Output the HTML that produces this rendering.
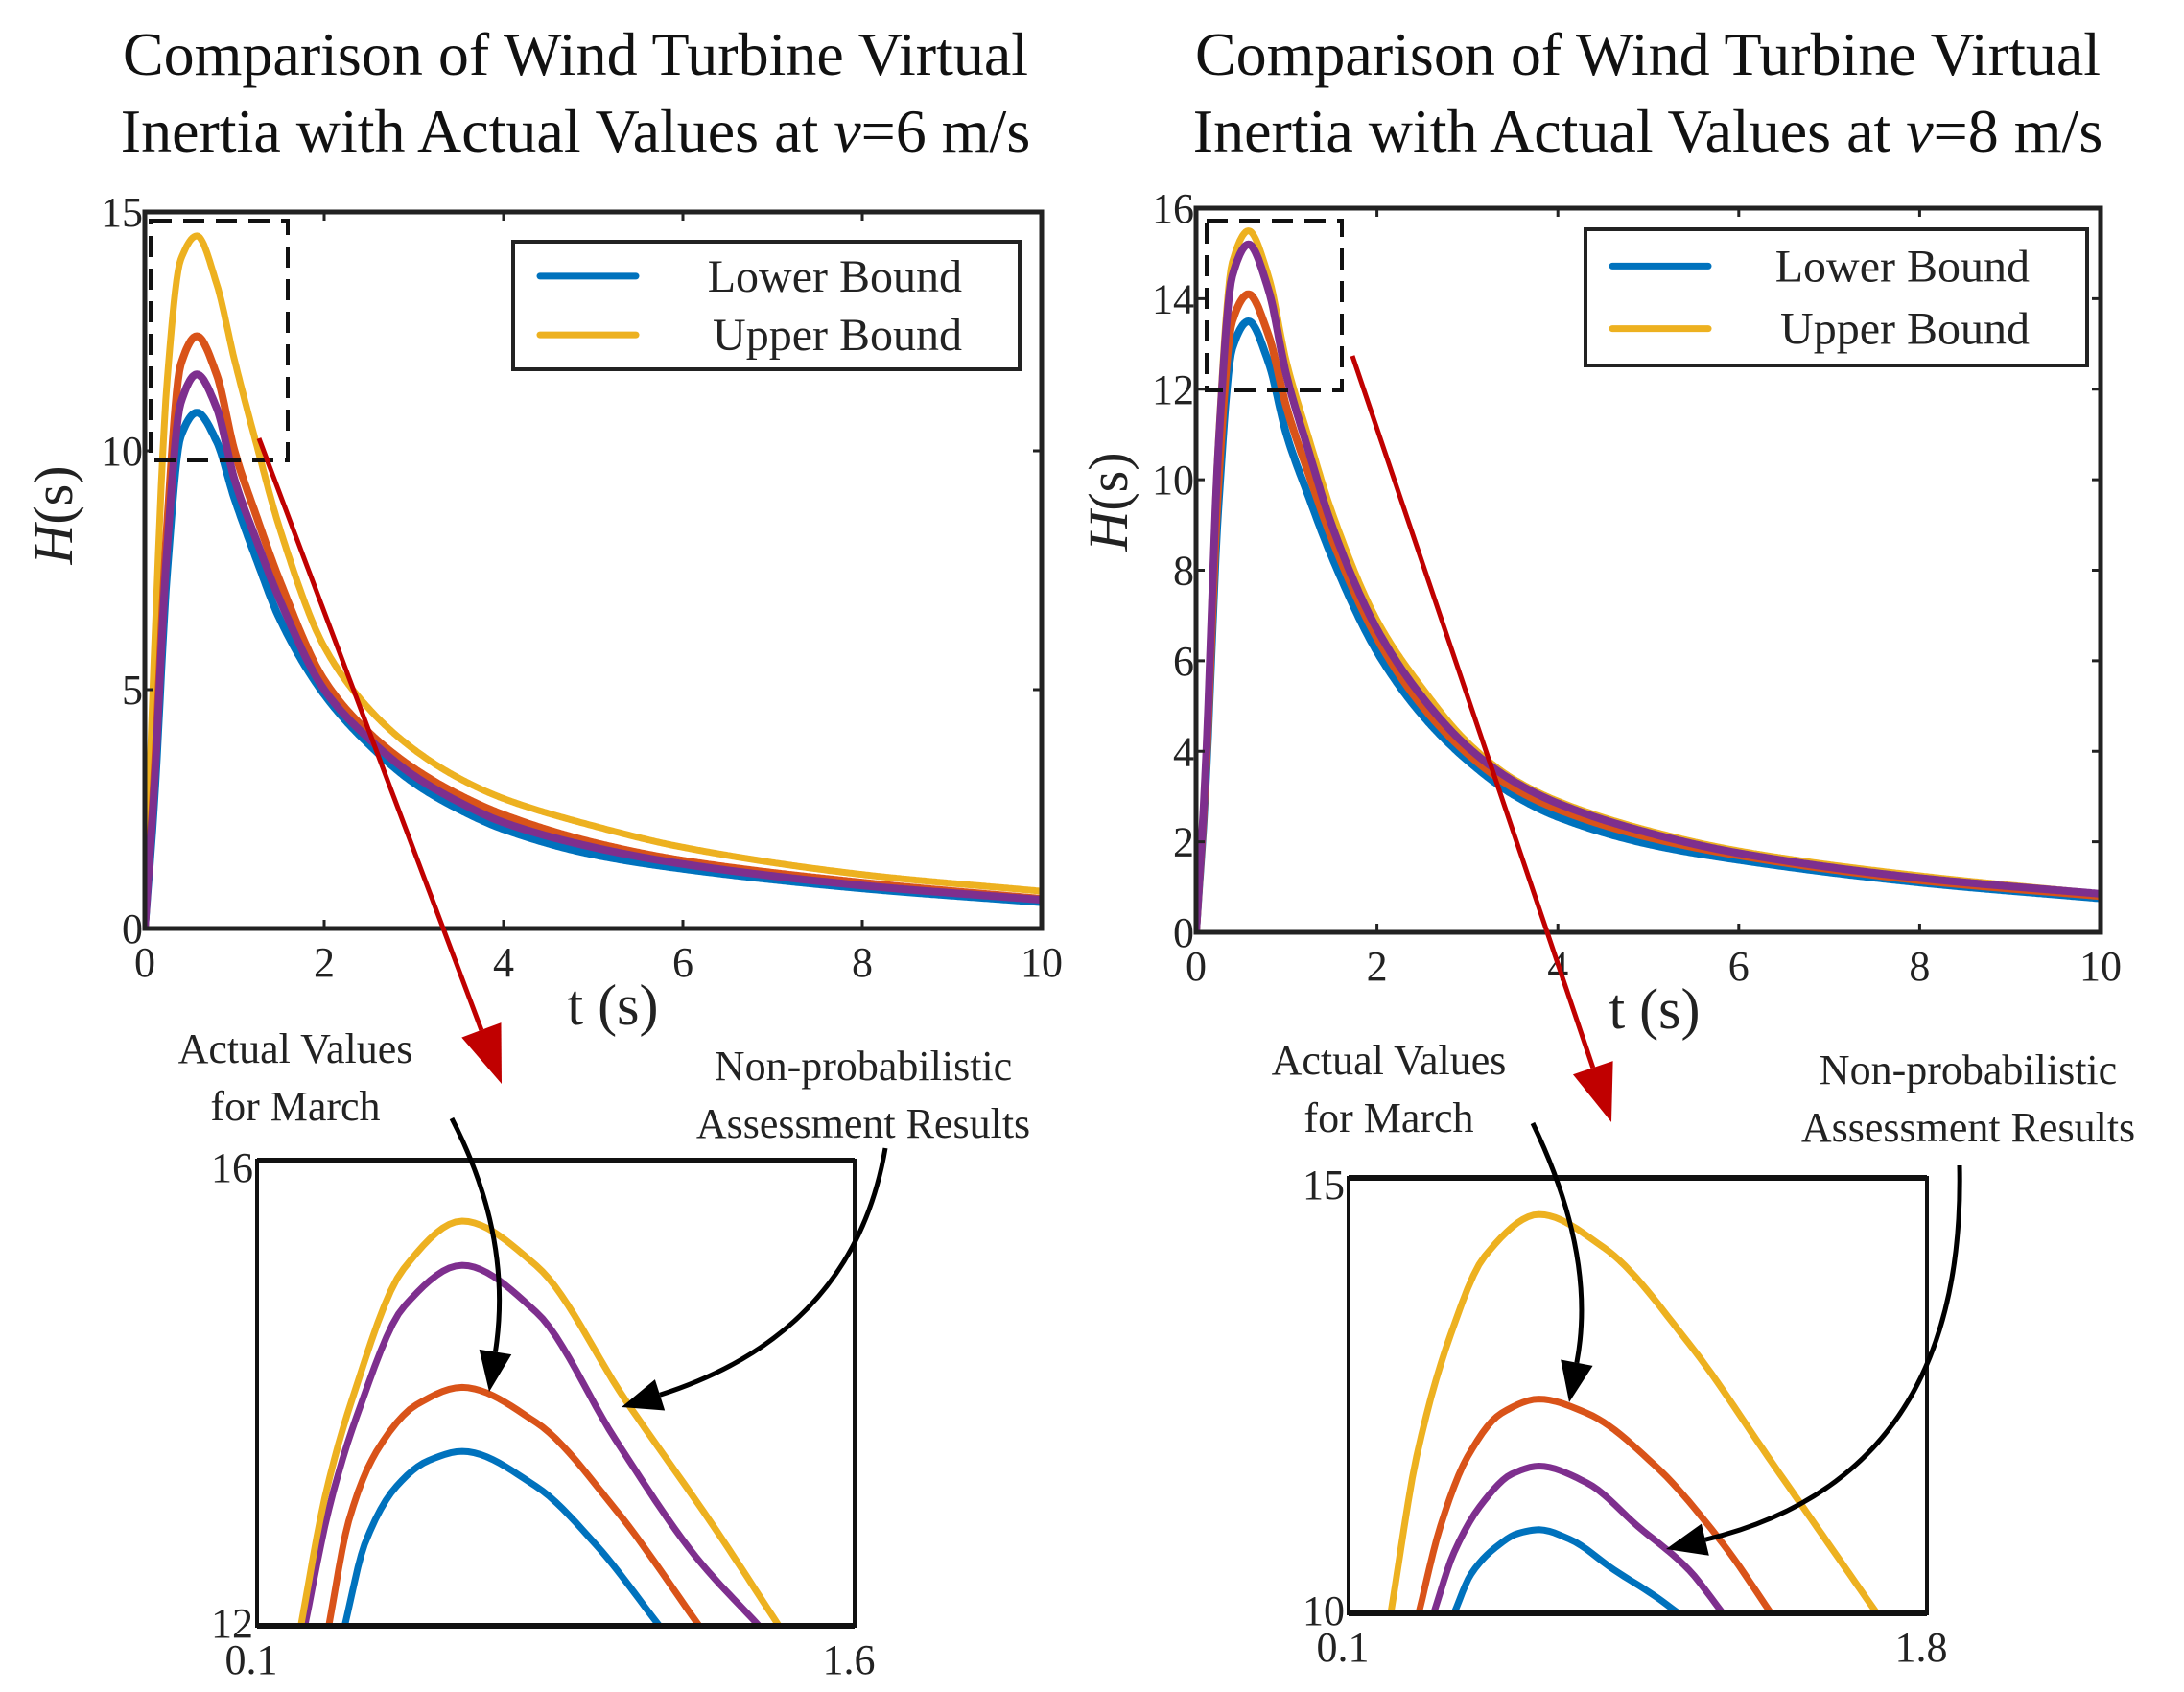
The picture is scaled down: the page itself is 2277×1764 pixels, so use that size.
<!DOCTYPE html>
<html><head><meta charset="utf-8"><style>
html,body{margin:0;padding:0;background:#fff;}
svg{display:block;font-family:"Liberation Serif",serif;}
</style></head><body>
<svg id="fig" width="2277" height="1764" viewBox="0 0 2277 1764" xmlns="http://www.w3.org/2000/svg">
<defs>
<clipPath id="cL1"><rect x="151" y="221" width="935" height="747"/></clipPath>
<clipPath id="cR1"><rect x="1247" y="217" width="943" height="755"/></clipPath>
<clipPath id="cL2"><rect x="268" y="1210" width="623" height="485"/></clipPath>
<clipPath id="cR2"><rect x="1406" y="1228" width="603" height="454"/></clipPath>
</defs>
<g font-size="64" text-anchor="middle" fill="#111">
<text x="600" y="78">Comparison of Wind Turbine Virtual</text>
<text x="600" y="158">Inertia with Actual Values at <tspan font-style="italic">v</tspan>=6 m/s</text>
<text x="1718" y="78">Comparison of Wind Turbine Virtual</text>
<text x="1718" y="158">Inertia with Actual Values at <tspan font-style="italic">v</tspan>=8 m/s</text>
</g>
<g id="layer"></g>
</svg>
<script>
// ---- data ----
const tPts = [0,0.1,0.25,0.4,0.58,0.8,1,1.25,1.5,2,2.5,3,3.5,4,5,6,8,10];
const L_blue   = [0,2.5,7.5,10.3,10.8,10.2,9.0,7.7,6.5,4.9,3.85,3.05,2.5,2.08,1.55,1.25,0.84,0.55];
const L_yellow = [0,5.5,11.5,14.0,14.5,13.5,11.9,10.1,8.4,5.9,4.6,3.75,3.15,2.72,2.15,1.7,1.13,0.78];
const L_orange = [0,3,8.5,11.8,12.4,11.6,10.0,8.6,7.3,5.2,4.1,3.35,2.8,2.38,1.8,1.42,0.96,0.62];
const L_purple = [0,2.8,8,11,11.6,10.9,9.4,8.1,6.9,5.0,3.97,3.2,2.65,2.22,1.7,1.35,0.9,0.6];
const R_blue   = [0,3,9.5,12.9,13.5,12.6,11.0,9.6,8.3,6.2,4.8,3.8,3.05,2.55,1.95,1.6,1.1,0.75];
const R_yellow = [0,3.5,11,14.8,15.5,14.5,12.6,10.9,9.3,6.9,5.4,4.2,3.4,2.9,2.25,1.8,1.25,0.85];
const R_orange = [0,3.2,10,13.5,14.1,13.2,11.6,10.1,8.7,6.5,5.0,3.95,3.2,2.72,2.1,1.7,1.15,0.8];
const R_purple = [0,3.4,10.8,14.5,15.2,14.2,12.3,10.6,9.0,6.7,5.2,4.1,3.35,2.85,2.2,1.75,1.2,0.85];
const xTicks = [0,2,4,6,8,10];
const L_yTicks = [0,5,10,15];
const R_yTicks = [0,2,4,6,8,10,12,14,16];
// left inset
const LI_yellow_t = [0.21,0.27,0.338,0.468,0.615,0.8,1.025,1.253,1.41];
const LI_yellow_h = [12,13.1,13.94,15.07,15.48,15.1,13.94,12.82,12];
const LI_purple_t = [0.22,0.28,0.35,0.47,0.615,0.8,1.0,1.2,1.36];
const LI_purple_h = [12,13,13.8,14.75,15.1,14.7,13.6,12.6,12];
const LI_orange_t = [0.28,0.33,0.4,0.5,0.615,0.8,1.0,1.21];
const LI_orange_h = [12,12.9,13.5,13.9,14.05,13.75,13.0,12];
const LI_blue_t = [0.32,0.37,0.45,0.53,0.615,0.8,0.95,1.11];
const LI_blue_h = [12,12.7,13.2,13.42,13.5,13.2,12.7,12];
// right inset
const RI_yellow_t = [0.224,0.3,0.4,0.5,0.66,0.85,1.1,1.35,1.653];
const RI_yellow_h = [10,11.8,13.2,14.1,14.58,14.2,13.1,11.7,10];
const RI_orange_t = [0.306,0.37,0.45,0.55,0.66,0.8,1.0,1.2,1.342];
const RI_orange_h = [10,11.0,11.8,12.3,12.46,12.3,11.7,10.8,10];
const RI_purple_t = [0.35,0.41,0.5,0.58,0.66,0.8,0.95,1.1,1.2];
const RI_purple_h = [10,10.7,11.3,11.6,11.69,11.5,11.0,10.5,10];
const RI_blue_t = [0.41,0.46,0.53,0.6,0.66,0.75,0.88,1.0,1.07];
const RI_blue_h = [10,10.45,10.75,10.92,10.96,10.85,10.5,10.2,10];

const C = {blue:'#0072BD', orange:'#D95319', yellow:'#EDB120', purple:'#7E2F8E', red:'#C00000'};
const NS='http://www.w3.org/2000/svg';
const layer=document.getElementById('layer');
function mk(tag,attrs,parent){const e=document.createElementNS(NS,tag);for(const k in attrs)e.setAttribute(k,attrs[k]);(parent||layer).appendChild(e);return e;}
function scale(d0,d1,r0,r1){return v=>r0+(v-d0)/(d1-d0)*(r1-r0);}
function monoPath(xsArr,ysArr,sx,sy){
  const n=xsArr.length,h=[],dl=[],m=new Array(n);
  for(let i=0;i<n-1;i++){h[i]=xsArr[i+1]-xsArr[i];dl[i]=(ysArr[i+1]-ysArr[i])/h[i];}
  m[0]=dl[0];m[n-1]=dl[n-2];
  for(let i=1;i<n-1;i++){ if(dl[i-1]*dl[i]<=0)m[i]=0; else { const w1=2*h[i]+h[i-1],w2=h[i]+2*h[i-1]; m[i]=(w1+w2)/(w1/dl[i-1]+w2/dl[i]); } }
  let d='';
  for(let i=0;i<n-1;i++){
    const N=Math.max(6,Math.ceil(h[i]*60));
    for(let k=(i===0?0:1);k<=N;k++){
      const s=k/N,x=xsArr[i]+s*h[i];
      const h00=2*s*s*s-3*s*s+1,h10=s*s*s-2*s*s+s,h01=-2*s*s*s+3*s*s,h11=s*s*s-s*s;
      const y=h00*ysArr[i]+h10*h[i]*m[i]+h01*ysArr[i+1]+h11*h[i]*m[i+1];
      d+=(d?' L':'M')+sx(x).toFixed(1)+','+sy(y).toFixed(1);
    }
  }
  return d;
}
function txt(x,y,s,size,anchor,parent){const t=mk('text',{x:x,y:y,'font-size':size,'text-anchor':anchor||'middle',fill:'#222'},parent);t.textContent=s;return t;}

function mainChart(id,box,ymax,yTicks,series,clip){
  const g=mk('g',{});
  
  
  const xs=scale(0,10,box.l,box.r), ys=scale(0,ymax,box.b,box.t);
  const cg=mk('g',{'clip-path':'url(#'+clip+')'},g);
  series.forEach(s=>{
    const p=mk('path',{d:monoPath(tPts,s.v,xs,ys),fill:'none',stroke:s.c,'stroke-width':s.w,'stroke-linecap':'round','stroke-linejoin':'round'},cg);
    
    
  });
  xTicks.forEach(v=>{const x=xs(v);mk('line',{x1:x,x2:x,y1:box.b,y2:box.b-9,stroke:'#222','stroke-width':3},g);mk('line',{x1:x,x2:x,y1:box.t,y2:box.t+9,stroke:'#222','stroke-width':3},g);
    const t=txt(x,box.b+50,String(v),44,'middle',g);});
  yTicks.forEach(v=>{const y=ys(v);mk('line',{x1:box.l,x2:box.l+9,y1:y,y2:y,stroke:'#222','stroke-width':3},g);mk('line',{x1:box.r,x2:box.r-9,y1:y,y2:y,stroke:'#222','stroke-width':3},g);
    const t=txt(box.l-2,y+15,String(v),44,'end',g);});
  const fr=mk('rect',{x:box.l,y:box.t,width:box.r-box.l,height:box.b-box.t,fill:'none',stroke:'#222','stroke-width':5},g);
  
  
}
mainChart('left',{l:151,r:1086,t:221,b:968},15,L_yTicks,[
 {n:'lower-bound',v:L_blue,c:C.blue,w:8},{n:'upper-bound',v:L_yellow,c:C.yellow,w:7},{n:'actual-march',v:L_orange,c:C.orange,w:8},{n:'assessment',v:L_purple,c:C.purple,w:8}],'cL1');
mainChart('right',{l:1247,r:2190,t:217,b:972},16,R_yTicks,[
 {n:'lower-bound',v:R_blue,c:C.blue,w:8},{n:'upper-bound',v:R_yellow,c:C.yellow,w:7},{n:'actual-march',v:R_orange,c:C.orange,w:8},{n:'assessment',v:R_purple,c:C.purple,w:8}],'cR1');

let a=txt(639,1068,'t (s)',60);
a=txt(1725,1072,'t (s)',60);
function ylab(x,y,name){const t=mk('text',{x:0,y:0,'font-size':58,'text-anchor':'middle',fill:'#222',transform:'translate('+x+','+y+') rotate(-90)'});
 t.innerHTML='<tspan font-style="italic">H</tspan>(s)';}
ylab(75,537,'left-y-axis-title');ylab(1175,523,'right-y-axis-title');

function legend(x,y,w,h,id){const g=mk('g',{});
 mk('rect',{x:x,y:y,width:w,height:h,fill:'#fff',stroke:'#222','stroke-width':4},g);
 const r1=y+h*0.27,r2=y+h*0.73;
 mk('line',{x1:x+28,x2:x+128,y1:r1,y2:r1,stroke:C.blue,'stroke-width':7,'stroke-linecap':'round'},g);
 mk('line',{x1:x+28,x2:x+128,y1:r2,y2:r2,stroke:C.yellow,'stroke-width':7,'stroke-linecap':'round'},g);
 let t=txt(x+w-60,r1+16,'Lower Bound',48,'end',g);
 t=txt(x+w-60,r2+16,'Upper Bound',48,'end',g);}
legend(535,252,528,133,'left');legend(1653,239,523,142,'right');

let d=mk('rect',{x:157,y:230,width:143,height:250,fill:'none',stroke:'#111','stroke-width':4,'stroke-dasharray':'22,12'});

d=mk('rect',{x:1258,y:230,width:141,height:177,fill:'none',stroke:'#111','stroke-width':4,'stroke-dasharray':'22,12'});


function redArrow(x1,y1,x2,y2,name){const g=mk('g',{});
 const ang=Math.atan2(y2-y1,x2-x1),L=60,W=22;const bx=x2-L*Math.cos(ang),by=y2-L*Math.sin(ang);
 mk('line',{x1:x1,y1:y1,x2:bx,y2:by,stroke:C.red,'stroke-width':5},g);
 const nx=-Math.sin(ang),ny=Math.cos(ang);
 mk('polygon',{points:x2+','+y2+' '+(bx+nx*W)+','+(by+ny*W)+' '+(bx-nx*W)+','+(by-ny*W),fill:C.red},g);}
redArrow(270,457,523,1130,'left-red-zoom-arrow');redArrow(1410,371,1680,1170,'right-red-zoom-arrow');

function inset(id,box,x0,x1,y0,y1,curves,clip,labs){
 const g=mk('g',{});
 const xs=scale(x0,x1,box.l,box.r),ys=scale(y0,y1,box.b,box.t);
 const cg=mk('g',{'clip-path':'url(#'+clip+')'},g);
 curves.forEach(c=>{const p=mk('path',{d:monoPath(c.t,c.h,xs,ys),fill:'none',stroke:c.c,'stroke-width':7,'stroke-linecap':'round'},cg);
  });
 mk('rect',{x:box.l,y:box.t,width:box.r-box.l,height:box.b-box.t,fill:'none',stroke:'#111','stroke-width':4},g);
 mk('line',{x1:box.l,x2:box.r,y1:box.b,y2:box.b,stroke:'#111','stroke-width':6},g);
 mk('line',{x1:box.l,x2:box.r,y1:box.t,y2:box.t,stroke:'#111','stroke-width':6},g);
 let t=txt(box.l-4,box.t+22,labs[2],44,'end',g);
 t=txt(box.l-4,box.b+12,labs[3],44,'end',g);
 t=txt(box.l-6,box.b+50,labs[0],44,'middle',g);
 t=txt(box.r-6,box.b+50,labs[1],44,'middle',g);}
inset('left',{l:268,r:891,t:1210,b:1695},0.1,1.6,12,16,[
 {n:'lower-bound',t:LI_blue_t,h:LI_blue_h,c:C.blue},{n:'actual-march',t:LI_orange_t,h:LI_orange_h,c:C.orange},
 {n:'assessment',t:LI_purple_t,h:LI_purple_h,c:C.purple},{n:'upper-bound',t:LI_yellow_t,h:LI_yellow_h,c:C.yellow}],'cL2',['0.1','1.6','16','12']);
inset('right',{l:1406,r:2009,t:1228,b:1682},0.1,1.8,10,15,[
 {n:'lower-bound',t:RI_blue_t,h:RI_blue_h,c:C.blue},{n:'actual-march',t:RI_orange_t,h:RI_orange_h,c:C.orange},
 {n:'assessment',t:RI_purple_t,h:RI_purple_h,c:C.purple},{n:'upper-bound',t:RI_yellow_t,h:RI_yellow_h,c:C.yellow}],'cR2',['0.1','1.8','15','10']);

function ann(x,y1,y2,l1,l2,name){const g=mk('g',{});
 txt(x,y1,l1,44,'middle',g);txt(x,y2,l2,44,'middle',g);}
ann(308,1108,1168,'Actual Values','for March','left-actual-values-label');
ann(900,1126,1186,'Non-probabilistic','Assessment Results','left-assessment-label');
ann(1448,1120,1180,'Actual Values','for March','right-actual-values-label');
ann(2052,1130,1190,'Non-probabilistic','Assessment Results','right-assessment-label');

function curveArrow(x1,y1,cx,cy,x2,y2,name){const g=mk('g',{});
 const ang=Math.atan2(y2-cy,x2-cx),L=42,W=17;const bx=x2-L*Math.cos(ang),by=y2-L*Math.sin(ang);
 mk('path',{d:'M'+x1+','+y1+' Q'+cx+','+cy+' '+bx+','+by,fill:'none',stroke:'#000','stroke-width':5},g);
 const nx=-Math.sin(ang),ny=Math.cos(ang);
 mk('polygon',{points:x2+','+y2+' '+(bx+nx*W)+','+(by+ny*W)+' '+(bx-nx*W)+','+(by-ny*W),fill:'#000'},g);}
curveArrow(471,1166,535,1290,510,1451,'left-actual-arrow');
curveArrow(923,1197,890,1390,648,1467,'left-assessment-arrow');
curveArrow(1598,1171,1665,1310,1636,1462,'right-actual-arrow');
curveArrow(2043,1215,2050,1540,1737,1615,'right-assessment-arrow');
</script>
</body></html>
